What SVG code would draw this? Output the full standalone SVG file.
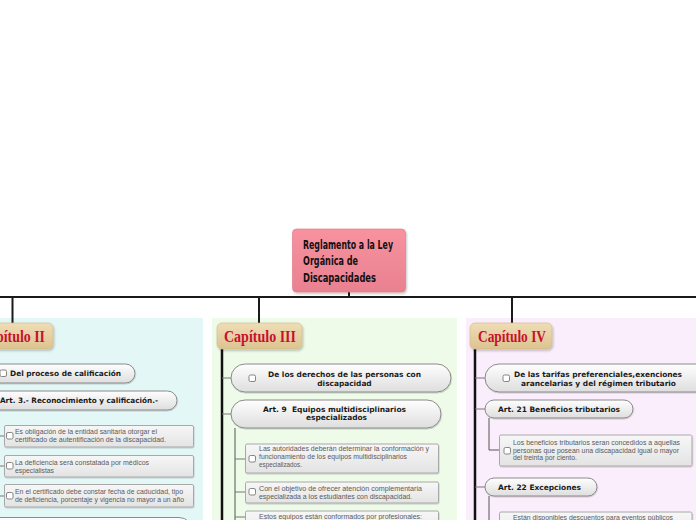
<svg xmlns="http://www.w3.org/2000/svg" width="696" height="520" viewBox="0 0 696 520">
<defs>
  <linearGradient id="gPink" x1="0" y1="0" x2="0" y2="1">
    <stop offset="0" stop-color="#f8929f"/>
    <stop offset="1" stop-color="#e98190"/>
  </linearGradient>
  <linearGradient id="gTan" x1="0" y1="0" x2="0" y2="1">
    <stop offset="0" stop-color="#f0ddb6"/>
    <stop offset="1" stop-color="#dcc391"/>
  </linearGradient>
  <linearGradient id="gPill" x1="0" y1="0" x2="0" y2="1">
    <stop offset="0" stop-color="#fefefe"/>
    <stop offset="1" stop-color="#dedede"/>
  </linearGradient>
  <linearGradient id="gBox" x1="0" y1="0" x2="0" y2="1">
    <stop offset="0" stop-color="#f7f7f7"/>
    <stop offset="1" stop-color="#e3e3e3"/>
  </linearGradient>
  <filter id="sh" x="-20%" y="-20%" width="140%" height="150%">
    <feDropShadow dx="1" dy="1.5" stdDeviation="1" flood-color="#000" flood-opacity="0.25"/>
  </filter>
  <filter id="shs" x="-10%" y="-20%" width="120%" height="160%">
    <feDropShadow dx="0.5" dy="1" stdDeviation="0.6" flood-color="#000" flood-opacity="0.18"/>
  </filter>
</defs>
<style>
  .main{fill:none;stroke:#1a1a1a;stroke-width:2}
  .chline{fill:none;stroke:#111;stroke-width:2.5}
  .stub{fill:none;stroke:#777;stroke-width:1}
  .sub{fill:none;stroke:#555;stroke-width:1}
  .pill{fill:url(#gPill);stroke:#8a8a8a;stroke-width:1;filter:url(#shs)}
  .box{fill:url(#gBox);stroke:#a8a8a8;stroke-width:1;filter:url(#shs)}
  .chap{fill:url(#gTan);stroke:#d2b985;stroke-width:0.6;filter:url(#sh)}
  .chapt{font-family:"Liberation Serif",serif;font-weight:bold;font-size:16px;fill:#c8102e}
  .pt{font-family:"DejaVu Sans",Verdana,sans-serif;font-weight:bold;font-size:7.4px;fill:#1a1a1a}
  .bt{font-family:"Liberation Sans",Arial,sans-serif;font-size:6.6px;fill:#5a5a5a}
  .cb{fill:#fff;stroke:#6a6a6a;stroke-width:0.8}
  .rt{font-family:"DejaVu Sans Condensed","DejaVu Sans",sans-serif;font-weight:bold;font-size:13px;fill:#111}
</style>

<!-- panels -->
<rect x="0" y="318" width="203" height="202" fill="#e4f7f7"/>
<rect x="212" y="318" width="245" height="202" fill="#edfbe8"/>
<rect x="466" y="318" width="230" height="202" fill="#fbeefc"/>

<!-- connectors -->
<g id="connectors">
  <path class="main" d="M349 292 V297 M0 297 H696 M12.5 297 V323 M259 297 V323 M512 297 V323"/>
  <path class="chline" d="M222 349 V520 M475 349 V520"/>
  <path class="stub" d="M222 378 Q227 378 231 378 M222 414 Q227 414 231 414"/>
  <path class="sub" d="M235 428 V520"/>
  <path class="stub" d="M235 459 H245 M235 492 H245 M235 517 H245"/>
  <path class="stub" d="M475 378 H485 M475 409 H485 M475 487 H485"/>
  <path class="sub" d="M489 418 V450 H499 M489 496 V520"/>
  <path class="stub" d="M0 436 H4 M0 466 H4 M0 496 H4 M0 373 H0"/>
</g>

<!-- root -->
<g id="root">
  <rect x="292.5" y="229" width="113" height="63" rx="4" fill="url(#gPink)" stroke="#e07585" stroke-width="0.6" filter="url(#sh)"/>
  <text class="rt" x="303" y="248.5" textLength="90" lengthAdjust="spacingAndGlyphs">Reglamento a la Ley</text>
  <text class="rt" x="303" y="265" textLength="55" lengthAdjust="spacingAndGlyphs">Orgánica de</text>
  <text class="rt" x="303" y="281.5" textLength="73" lengthAdjust="spacingAndGlyphs">Discapacidades</text>
</g>

<!-- Chapter II -->
<g id="cap2">
  <rect class="chap" x="-32" y="323" width="85" height="26" rx="5"/>
  <text class="chapt" x="-21" y="342" textLength="66" lengthAdjust="spacingAndGlyphs">Capítulo II</text>
</g>
<g id="cap2-n1">
  <rect class="pill" x="-18" y="364" width="153" height="19" rx="9.5"/>
  <rect class="cb" x="0" y="370" width="6.5" height="6.5" rx="1.5"/>
  <text class="pt" x="10" y="375.8" textLength="111" lengthAdjust="spacingAndGlyphs">Del proceso de calificación</text>
</g>
<g id="cap2-n2">
  <rect class="pill" x="-18" y="391" width="195" height="19" rx="9.5"/>
  <text class="pt" x="0" y="403.3" textLength="158" lengthAdjust="spacingAndGlyphs">Art. 3.- Reconocimiento y calificación.-</text>
</g>
<g id="cap2-b1">
  <rect class="box" x="4.5" y="425.5" width="189" height="21.5" rx="1.5"/>
  <rect class="cb" x="6.5" y="432.5" width="6.5" height="6.5" rx="1.5"/>
  <text class="bt" x="15" y="434.3" textLength="142" lengthAdjust="spacingAndGlyphs">Es obligación de la entidad sanitaria otorgar el</text>
  <text class="bt" x="15" y="442.3" textLength="151" lengthAdjust="spacingAndGlyphs">certificado de autentificación de la discapacidad.</text>
</g>
<g id="cap2-b2">
  <rect class="box" x="4.5" y="455.5" width="189" height="21.5" rx="1.5"/>
  <rect class="cb" x="6.5" y="462.5" width="6.5" height="6.5" rx="1.5"/>
  <text class="bt" x="15" y="465.3" textLength="134" lengthAdjust="spacingAndGlyphs">La deficiencia será constatada por médicos</text>
  <text class="bt" x="15" y="473.3" textLength="39" lengthAdjust="spacingAndGlyphs">especialistas</text>
</g>
<g id="cap2-b3">
  <rect class="box" x="4.5" y="484.5" width="189" height="22.5" rx="1.5"/>
  <rect class="cb" x="6.5" y="492.5" width="6.5" height="6.5" rx="1.5"/>
  <text class="bt" x="15" y="494.3" textLength="168" lengthAdjust="spacingAndGlyphs">En el certificado debe constar fecha de caducidad, tipo</text>
  <text class="bt" x="15" y="502.3" textLength="169" lengthAdjust="spacingAndGlyphs">de deficiencia, porcentaje y vigencia no mayor a un año</text>
</g>
<g id="cap2-n3">
  <rect class="pill" x="-20" y="517.5" width="213" height="30" rx="14"/>
</g>

<!-- Chapter III -->
<g id="cap3">
  <rect class="chap" x="217" y="323" width="85" height="26" rx="5"/>
  <text class="chapt" x="224" y="342" textLength="72" lengthAdjust="spacingAndGlyphs">Capítulo III</text>
</g>
<g id="cap3-n1">
  <rect class="pill" x="231" y="364" width="220" height="28" rx="14"/>
  <rect class="cb" x="249" y="375" width="6.5" height="6.5" rx="1.5"/>
  <text class="pt" x="268" y="377" textLength="153" lengthAdjust="spacingAndGlyphs">De los derechos de las personas con</text>
  <text class="pt" x="344.5" y="385.5" text-anchor="middle">discapacidad</text>
</g>
<g id="cap3-n2">
  <rect class="pill" x="231" y="400" width="210" height="28" rx="14"/>
  <text class="pt" x="263" y="411.5" textLength="143" lengthAdjust="spacingAndGlyphs" xml:space="preserve">Art. 9  Equipos multidisciplinarios</text>
  <text class="pt" x="306" y="420" textLength="61" lengthAdjust="spacingAndGlyphs">especializados</text>
</g>
<g id="cap3-b1">
  <rect class="box" x="245.5" y="444" width="193" height="29" rx="1.5"/>
  <rect class="cb" x="249" y="455.5" width="6.5" height="6.5" rx="1.5"/>
  <text class="bt" x="259" y="451" textLength="170" lengthAdjust="spacingAndGlyphs">Las autoridades deberán determinar la conformación y</text>
  <text class="bt" x="259" y="459" textLength="148" lengthAdjust="spacingAndGlyphs">funcionamiento de los equipos multidisciplinarios</text>
  <text class="bt" x="259" y="467" textLength="43" lengthAdjust="spacingAndGlyphs">especializados.</text>
</g>
<g id="cap3-b2">
  <rect class="box" x="245.5" y="482" width="193" height="21" rx="1.5"/>
  <rect class="cb" x="249" y="488.5" width="6.5" height="6.5" rx="1.5"/>
  <text class="bt" x="259" y="490.5" textLength="163" lengthAdjust="spacingAndGlyphs">Con el objetivo de ofrecer atención complementaria</text>
  <text class="bt" x="259" y="498.5" textLength="153" lengthAdjust="spacingAndGlyphs">especializada a los estudiantes con discapacidad.</text>
</g>
<g id="cap3-b3">
  <rect class="box" x="245.5" y="511" width="193" height="30" rx="1.5"/>
  <text class="bt" x="259" y="519" textLength="163" lengthAdjust="spacingAndGlyphs">Estos equipos están conformados por profesionales:</text>
</g>

<!-- Chapter IV -->
<g id="cap4">
  <rect class="chap" x="470" y="323" width="82" height="26" rx="5"/>
  <text class="chapt" x="478" y="342" textLength="68" lengthAdjust="spacingAndGlyphs">Capítulo IV</text>
</g>
<g id="cap4-n1">
  <rect class="pill" x="485" y="364" width="225" height="28" rx="14"/>
  <rect class="cb" x="503" y="375" width="6.5" height="6.5" rx="1.5"/>
  <text class="pt" x="514" y="377" textLength="168" lengthAdjust="spacingAndGlyphs">De las tarifas preferenciales,exenciones</text>
  <text class="pt" x="521" y="385.5" textLength="155" lengthAdjust="spacingAndGlyphs">arancelarias y del régimen tributario</text>
</g>
<g id="cap4-n2">
  <rect class="pill" x="485" y="400" width="148" height="18" rx="9"/>
  <text class="pt" x="498" y="411.7" textLength="122" lengthAdjust="spacingAndGlyphs">Art. 21 Beneficios tributarios</text>
</g>
<g id="cap4-b1">
  <rect class="box" x="499.5" y="435" width="192.5" height="31" rx="1.5"/>
  <rect class="cb" x="504" y="447.5" width="6.5" height="6.5" rx="1.5"/>
  <text class="bt" x="513" y="445" textLength="167" lengthAdjust="spacingAndGlyphs">Los beneficios tributarios seran concedidos a aquellas</text>
  <text class="bt" x="513" y="452.7" textLength="166" lengthAdjust="spacingAndGlyphs">personas que posean una discapacidad igual o mayor</text>
  <text class="bt" x="513" y="460.4" textLength="64" lengthAdjust="spacingAndGlyphs">del treinta por ciento.</text>
</g>
<g id="cap4-n3">
  <rect class="pill" x="485" y="478" width="112" height="18" rx="9"/>
  <text class="pt" x="498" y="489.7" textLength="83" lengthAdjust="spacingAndGlyphs">Art. 22 Excepciones</text>
</g>
<g id="cap4-b2">
  <rect class="box" x="499.5" y="512" width="192.5" height="30" rx="1.5"/>
  <text class="bt" x="513" y="520.3" textLength="160" lengthAdjust="spacingAndGlyphs">Están disponibles descuentos para eventos públicos</text>
</g>
</svg>
